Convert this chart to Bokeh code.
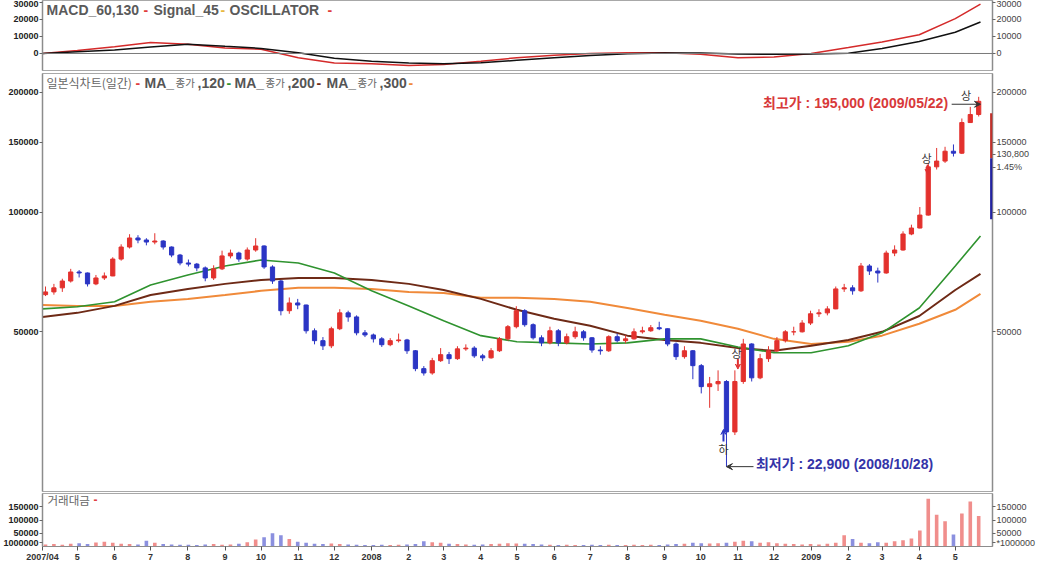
import numpy as np
import pandas as pd
from bokeh.plotting import figure
from bokeh.layouts import column
from bokeh.models import (ColumnDataSource, FixedTicker, Label, Span, Arrow,
                          VeeHead, BoxAnnotation, Range1d, LinearAxis, LogAxis,
                          NumeralTickFormatter)
from bokeh.embed import file_html
from bokeh.resources import INLINE

# ---------------- data ----------------
week_start = pd.date_range("2007-04-02", periods=112, freq="W-MON")
first_open = 62000
closes = [63000, 64500, 67100, 70700, 70300, 66000, 68300, 69100, 76200, 81700,
          86100, 85100, 84100, 84600, 81700, 78000, 74500, 74000, 72400, 68300,
          72000, 77600, 78900, 76200, 80300, 82200, 72800, 67100, 56500, 59100,
          58400, 50300, 47500, 46100, 50900, 55800, 54500, 49700, 49100, 48000,
          46400, 47500, 47700, 44800, 40400, 39400, 42300, 43800, 42800, 45300,
          45500, 43500, 43000, 44800, 48000, 51500, 56500, 52100, 48300, 46900,
          50300, 46900, 48600, 50000, 48300, 45000, 44800, 48600, 47500, 48000,
          50000, 50300, 51200, 50900, 46600, 43300, 44800, 41100, 36400, 37000,
          37500, 28000, 37500, 46600, 38300, 42800, 44800, 47500, 50000, 50000,
          52600, 55500, 55800, 57100, 64100, 64500, 63400, 73200, 71100, 70300,
          78900, 80300, 88100, 91200, 98300, 130000, 134400, 142300, 140700, 168000,
          176000, 190000]
highs = [65000, 66000, 68000, 72000, 71500, 70500, 69500, 70500, 77000, 83000,
         88000, 87500, 86000, 88500, 85000, 82000, 78500, 76000, 74500, 73000,
         73500, 80000, 80500, 79500, 81500, 86000, 82500, 73500, 67500, 61000,
         60500, 58500, 51000, 48500, 51500, 57000, 56500, 55000, 50500, 49500,
         48500, 48200, 49500, 48000, 45000, 41000, 43000, 45500, 44500, 46000,
         46500, 46000, 44000, 45500, 48500, 52000, 58000, 57000, 52500, 49000,
         51500, 50800, 49500, 51500, 50500, 48500, 46000, 49000, 49500, 49000,
         51000, 51500, 52000, 53000, 51000, 47000, 46000, 45000, 41500, 38500,
         40000, 37800, 40000, 48000, 46800, 44000, 46000, 48500, 50500, 51500,
         53500, 56500, 57000, 58000, 65000, 66000, 65500, 74500, 74000, 72500,
         80000, 82500, 89500, 93000, 103000, 133000, 145000, 146000, 148000, 172000,
         184000, 195000]
lows = [61500, 62000, 63000, 66500, 68500, 65000, 65500, 67500, 69000, 75500,
        81000, 83500, 82500, 83000, 80500, 77000, 73500, 73000, 71000, 67000,
        67500, 71500, 76500, 75000, 75500, 79500, 72000, 66000, 55000, 55500,
        57000, 49500, 46500, 45000, 45500, 50500, 53000, 49000, 48500, 47000,
        45800, 46000, 47000, 44000, 39800, 38800, 39000, 42000, 41500, 42500,
        44800, 43000, 42200, 42800, 44500, 47500, 51000, 51500, 47800, 46000,
        46500, 46000, 46500, 48000, 47500, 44300, 43800, 44500, 47000, 46800,
        47800, 49500, 50000, 50500, 46000, 42500, 42800, 38000, 35000, 32200,
        35500, 22900, 27500, 37000, 37500, 38000, 42000, 44500, 47000, 49000,
        49800, 52000, 54500, 55000, 57000, 63000, 62000, 63000, 69500, 66500,
        70000, 77500, 80000, 87500, 91000, 98000, 128000, 133000, 138000, 140000,
        168000, 174000]
volumes = [8000, 9000, 7000, 10000, 12000, 9000, 15000, 18000, 14000, 10000,
           9000, 8000, 22000, 14000, 9000, 8000, 7000, 7000, 6000, 8000,
           9000, 7000, 8000, 10000, 16000, 26000, 35000, 50000, 42000, 28000,
           18000, 14000, 10000, 9000, 11000, 9000, 8000, 7000, 6000, 6000,
           7000, 6000, 7000, 8000, 9000, 20000, 16000, 14000, 10000, 9000,
           8000, 7000, 8000, 9000, 10000, 12000, 11000, 10000, 9000, 8000,
           7000, 6000, 7000, 6000, 6000, 7000, 6000, 7000, 6000, 6000,
           7000, 6000, 7000, 6000, 8000, 9000, 10000, 14000, 12000, 11000,
           12000, 14000, 18000, 22000, 20000, 14000, 16000, 12000, 10000, 9000,
           8000, 9000, 8000, 10000, 14000, 42000, 28000, 14000, 12000, 16000,
           14000, 20000, 24000, 30000, 60000, 180000, 120000, 95000, 45000, 125000,
           170000, 115000]

line_dates = ["2007-04-02", "2007-05-01", "2007-06-01", "2007-07-01", "2007-08-01",
              "2007-09-01", "2007-10-01", "2007-11-01", "2007-12-01", "2008-01-01",
              "2008-02-01", "2008-03-01", "2008-04-01", "2008-05-01", "2008-06-01",
              "2008-07-01", "2008-08-01", "2008-09-01", "2008-10-01", "2008-11-01",
              "2008-12-01", "2009-01-01", "2009-02-01", "2009-03-01", "2009-04-01",
              "2009-05-01", "2009-05-22"]
ma120 = [57100, 57800, 59500, 65600, 69500, 73200, 75800, 74500, 70300, 63400,
         58100, 53300, 48900, 47200, 46900, 46600, 46900, 48000, 48000, 45800,
         44300, 44300, 46100, 49700, 57400, 73200, 87100]
ma200 = [54500, 55800, 58100, 61900, 64100, 66000, 67500, 68300, 68300, 67500,
         66000, 63700, 60500, 56800, 53900, 51800, 48900, 47700, 46900, 45500,
         44800, 46100, 47700, 50000, 54800, 63700, 69900]
ma300 = [58400, 58100, 58100, 59500, 60500, 61900, 63400, 64500, 64500, 64100,
         63000, 62600, 60900, 60900, 60500, 59500, 57400, 55200, 53300, 50900,
         48000, 46600, 47200, 48900, 52400, 56800, 62300]
macd_red = [0, 1800, 4000, 6500, 5500, 3200, 2500, -2500, -5600, -6000, -7000, -6500,
            -4500, -2500, -1000, 0, 500, 500, -500, -2500, -2000, 0, 3500, 6800,
            11000, 20500, 29000]
macd_black = [0, 1000, 2000, 3800, 5500, 4200, 3000, 500, -2800, -4600, -5600, -6000,
              -5500, -4000, -2500, -1200, -200, 300, 300, -300, -500, -300, 200, 3000,
              7000, 12500, 18500]

tick_dates = ["2007-04-02"] + [d.strftime("%Y-%m-%d") for d in
                               pd.date_range("2007-05-01", "2009-05-01", freq="MS")]
tick_labels = ["2007/04", "5", "6", "7", "8", "9", "10", "11", "12", "2008", "2", "3",
               "4", "5", "6", "7", "8", "9", "10", "11", "12", "2009", "2", "3", "4", "5"]

main_ticks = [50000, 100000, 150000, 200000]
macd_ticks = [0, 10000, 20000, 30000]
vol_ticks = [50000, 100000, 150000]
# current-price marker texts on the right price scale, and the unit box of the volume scale
price_marks = {139900: "130,800", 129800: "1.45%"}
vol_unit = {14000: "1000000"}
vol_unit_right = {14000: "*1000000"}

# ---------------- helpers ----------------
DAY = 86400000.0


def ms(d):
    return pd.Timestamp(d).value / 1e6


KR = "Noto Sans CJK KR"
LAT = "Liberation Sans"
MIX = "Liberation Sans, Noto Sans CJK KR"
UP, DOWN = "#e3312d", "#2b35c4"

opens = [first_open] + closes[:-1]
centers = [ms(d) + 2.5 * DAY for d in week_start]
colors = [UP if c >= o else DOWN for o, c in zip(opens, closes)]
src = ColumnDataSource(dict(x=centers, open=opens, close=closes, high=highs, low=lows,
                            top=np.maximum(opens, closes), bottom=np.minimum(opens, closes),
                            color=colors, vol=volumes))
line_x = [ms(d) for d in line_dates]

W = 1038
BL, BR = 35, 38
FW = W - BL - BR
XR = Range1d(ms("2007-04-02"), ms("2009-06-01"))


def style_axis(ax, ticks, side, overrides=None):
    ax.ticker = FixedTicker(ticks=ticks)
    ax.formatter = NumeralTickFormatter(format="0")
    if overrides:
        ax.major_label_overrides = overrides
    ax.axis_line_color = "#8c8c8c"
    ax.axis_line_width = 1.5
    ax.major_tick_line_color = "#666666"
    ax.major_tick_out = 3
    ax.major_tick_in = 0
    ax.minor_tick_out = 0
    ax.minor_tick_in = 0
    ax.major_label_standoff = 1
    ax.major_label_text_font = LAT
    ax.major_label_text_font_size = "9px"
    if side == "left":
        ax.major_label_text_font_style = "bold"
        ax.major_label_text_color = "#222222"
    else:
        ax.major_label_text_color = "#444444"


def base_fig(h, top, bottom, yr, ytype="linear"):
    p = figure(width=W, height=h, x_range=XR, y_range=yr, y_axis_type=ytype,
               x_axis_type="datetime", output_backend="svg", toolbar_location=None,
               min_border_left=BL, min_border_right=BR, min_border_top=top,
               min_border_bottom=bottom)
    p.grid.visible = False
    p.outline_line_color = "#a8a8a8"
    p.background_fill_color = "white"
    p.border_fill_color = "white"
    return p


def seg(p, x, y, text, color, size, bold=False, font=LAT):
    p.add_layout(Label(x=x, y=y, x_units="screen", y_units="screen", text=text,
                       text_color=color, text_font_size=f"{size}px",
                       text_font_style="bold" if bold else "normal",
                       text_baseline="middle", text_align="left", text_font=font))


def icon(p, y):
    p.add_layout(Label(x=FW - 10, y=y, x_units="screen", y_units="screen", text="⊞",
                       text_color="#444444", text_font_size="10px", text_font="DejaVu Sans",
                       text_baseline="middle", text_align="left"))


# ---------------- MACD panel ----------------
p1 = base_fig(72, 0, 2, Range1d(-10000, 31176))
p1.xaxis.visible = False
style_axis(p1.yaxis[0], macd_ticks, "left")
ra1 = LinearAxis()
style_axis(ra1, macd_ticks, "right")
p1.add_layout(ra1, "right")
p1.add_layout(Span(location=0, dimension="width", line_color="#7a7a7a", line_width=1))
p1.line(line_x, macd_red, line_color="#d42a2a", line_width=1.5)
p1.line(line_x, macd_black, line_color="#111111", line_width=1.5)
seg(p1, 4, 61, "MACD_60,130", "#5a5a5a", 14, True)
seg(p1, 101, 61, "-", "#e03c3c", 14, True)
seg(p1, 111, 61, "Signal_45", "#5a5a5a", 14, True)
seg(p1, 178, 61, "-", "#e8b840", 14, True)
seg(p1, 187, 61, "OSCILLATOR", "#5a5a5a", 14, True)
seg(p1, 285, 61, "-", "#e03c3c", 14, True)
icon(p1, 64)

# ---------------- main price panel ----------------
p2 = base_fig(420, 1, 1, Range1d(19830, 223200), "log")
p2.xaxis.visible = False
style_axis(p2.yaxis[0], main_ticks, "left")
ra2 = LogAxis()
style_axis(ra2, main_ticks + list(price_marks), "right", price_marks)
p2.add_layout(ra2, "right")

p2.line(line_x, ma300, line_color="#f08a3a", line_width=2)
p2.line(line_x, ma200, line_color="#6e2a16", line_width=2)
p2.line(line_x, ma120, line_color="#2f932f", line_width=1.6)
p2.segment(x0="x", y0="low", x1="x", y1="high", line_color="color", line_width=1, source=src)
p2.vbar(x="x", width=3.5 * DAY, top="top", bottom="bottom", fill_color="color",
        line_color="color", source=src)

seg(p2, 4, 409, "일본식차트(일간)", "#666666", 12, False, KR)
seg(p2, 93, 409, "-", "#e04040", 14, True)
for x0, period, dash in [(102, "120", "#2f932f"), (192, "200", "#6e2a16"), (284, "300", "#f08a3a")]:
    seg(p2, x0, 409, "MA_", "#555555", 14, True)
    seg(p2, x0 + 31, 409, "종가", "#666666", 10.5, False, KR)
    seg(p2, x0 + 53, 409, "," + period, "#555555", 14, True)
    seg(p2, x0 + 82, 409, "-", dash, 14, True)

# highest price annotation
p2.add_layout(Label(x=ms("2009-04-25"), y=188500, text="최고가 : 195,000 (2009/05/22)",
                    text_color="#d8393a", text_font_size="14px", text_font_style="bold",
                    text_font=MIX, text_align="right", text_baseline="middle"))
p2.add_layout(Arrow(x_start=ms("2009-04-28"), y_start=186800, x_end=ms("2009-05-22"),
                    y_end=186800, line_color="#333333", line_width=1,
                    end=VeeHead(size=6, line_color="#333333", fill_color="#333333", line_width=1)))
p2.add_layout(Label(x=ms("2009-05-10"), y=197000, text="상", text_color="#333333",
                    text_font_size="11px", text_font=KR, text_align="center",
                    text_baseline="middle"))
# limit-up marks
p2.add_layout(Label(x=ms("2009-04-07"), y=137000, text="상", text_color="#333333",
                    text_font_size="11px", text_font=KR, text_align="center",
                    text_baseline="middle"))
p2.add_layout(Arrow(x_start=ms("2009-04-08"), y_start=131500, x_end=ms("2009-04-08"),
                    y_end=124500, line_color="#e03030", line_width=2,
                    end=VeeHead(size=5, line_color="#e03030", fill_color="#e03030")))
p2.add_layout(Label(x=ms("2008-10-31"), y=44300, text="상", text_color="#333333",
                    text_font_size="11px", text_font=KR, text_align="center",
                    text_baseline="middle"))
p2.add_layout(Arrow(x_start=ms("2008-11-01"), y_start=42700, x_end=ms("2008-11-01"),
                    y_end=40300, line_color="#e03030", line_width=2,
                    end=VeeHead(size=5, line_color="#e03030", fill_color="#e03030")))
# limit-down mark
p2.add_layout(Label(x=ms("2008-10-20"), y=25300, text="하", text_color="#333333",
                    text_font_size="11px", text_font=KR, text_align="center",
                    text_baseline="middle"))
p2.add_layout(Arrow(x_start=ms("2008-10-20"), y_start=26500, x_end=ms("2008-10-20"),
                    y_end=28400, line_color="#2b35c4", line_width=2,
                    end=VeeHead(size=5, line_color="#2b35c4", fill_color="#2b35c4")))
# lowest price annotation
p2.add_layout(Arrow(x_start=ms("2008-11-14"), y_start=22900, x_end=centers[81],
                    y_end=22900, line_color="#333333", line_width=1,
                    end=VeeHead(size=6, line_color="#333333", fill_color="#333333", line_width=1)))
p2.add_layout(Label(x=ms("2008-11-16"), y=23200, text="최저가 : 22,900 (2008/10/28)",
                    text_color="#3434a8", text_font_size="14px", text_font_style="bold",
                    text_font=MIX, text_align="left", text_baseline="middle"))
# right-edge price range bar
p2.add_layout(BoxAnnotation(left=ms("2009-05-30"), right=ms("2009-06-01"),
                            bottom=136700, top=177300, fill_color="#c0302a", fill_alpha=1,
                            line_color=None))
p2.add_layout(BoxAnnotation(left=ms("2009-05-30"), right=ms("2009-06-01"),
                            bottom=96000, top=136700, fill_color="#2222a0", fill_alpha=1,
                            line_color=None))

# ---------------- volume panel ----------------
p3 = base_fig(72, 1, 15, Range1d(0, 200000))
style_axis(p3.yaxis[0], vol_ticks + list(vol_unit), "left", vol_unit)
ra3 = LinearAxis()
style_axis(ra3, vol_ticks + list(vol_unit_right), "right", vol_unit_right)
p3.add_layout(ra3, "right")
p3.vbar(x="x", width=3 * DAY, top="vol", bottom=0, fill_color="color", fill_alpha=0.55,
        line_color=None, source=src)
seg(p3, 5, 47, "거래대금", "#666666", 11.5, False, KR)
seg(p3, 51, 47, "-", "#e04040", 12, True)
icon(p3, 50)

xa = p3.xaxis[0]
tick_ms = [int(ms(d)) for d in tick_dates]
xa.ticker = FixedTicker(ticks=tick_ms)
xa.major_label_overrides = {t: s for t, s in zip(tick_ms, tick_labels)}
xa.major_label_text_font = LAT
xa.major_label_text_font_size = "9px"
xa.major_label_text_font_style = "bold"
xa.major_label_text_color = "#333333"
xa.major_label_standoff = 1
xa.axis_line_color = "#8c8c8c"
xa.major_tick_line_color = "#555555"
xa.major_tick_out = 4
xa.major_tick_in = 0
xa.minor_tick_out = 0
xa.minor_tick_in = 0

layout = column(p1, p2, p3, spacing=0)
open("out.html", "w").write(file_html(layout, INLINE))
